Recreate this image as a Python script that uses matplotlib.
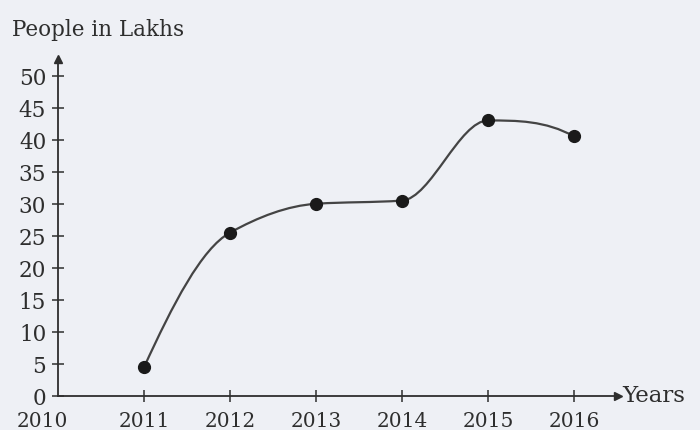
import numpy as np
import matplotlib
matplotlib.use('Agg')
import matplotlib.pyplot as plt
from matplotlib.path import Path
from matplotlib.patches import PathPatch
import matplotlib.transforms as mtransforms

# values
years = [2011, 2012, 2013, 2014, 2015, 2016]
people = [4.5, 25.5, 30.0, 30.5, 43.0, 40.5]
yticks = [0, 5, 10, 15, 20, 25, 30, 35, 40, 45, 50]
xticks = [2010, 2011, 2012, 2013, 2014, 2015, 2016]

plt.rcParams['font.family'] = ['DejaVu Serif']
ink = '#2e2e2e'
bg = '#eef0f5'


def pchip_slopes(x, y):
    # monotone (Fritsch-Carlson) tangents, same rules as scipy's PCHIP
    x = np.asarray(x, float)
    y = np.asarray(y, float)
    h = np.diff(x)
    d = np.diff(y) / h
    m = np.zeros_like(y)
    for k in range(1, len(y) - 1):
        if d[k - 1] * d[k] > 0:
            w1 = 2 * h[k] + h[k - 1]
            w2 = h[k] + 2 * h[k - 1]
            m[k] = (w1 + w2) / (w1 / d[k - 1] + w2 / d[k])

    def end(h0, h1, d0, d1):
        s = ((2 * h0 + h1) * d0 - h0 * d1) / (h0 + h1)
        if np.sign(s) != np.sign(d0):
            s = 0.0
        elif np.sign(d0) != np.sign(d1) and abs(s) > abs(3 * d0):
            s = 3 * d0
        return s

    m[0] = end(h[0], h[1], d[0], d[1])
    m[-1] = end(h[-1], h[-2], d[-1], d[-2])
    return m


fig = plt.figure(figsize=(7, 4.31), dpi=100, facecolor=bg)
ax = fig.add_axes([0.0829, 0.0789, 0.80, 0.782])
ax.set_facecolor(bg)
ax.set_xlim(2010, 2016.51)
ax.set_ylim(0, 52.6)

# smooth monotone curve through the points, as cubic bezier segments
m = pchip_slopes(years, people)
verts = [(years[0], people[0])]
codes = [Path.MOVETO]
for i in range(len(years) - 1):
    h = years[i + 1] - years[i]
    verts += [(years[i] + h / 3, people[i] + m[i] * h / 3),
              (years[i + 1] - h / 3, people[i + 1] - m[i + 1] * h / 3),
              (years[i + 1], people[i + 1])]
    codes += [Path.CURVE4] * 3
ax.add_patch(PathPatch(Path(verts, codes), facecolor='none', edgecolor='#444444', lw=1.6, zorder=2))
ax.plot(years, people, 'o', color='#1a1a1a', ms=8.5, zorder=3)

for s in ['top', 'right']:
    ax.spines[s].set_visible(False)
for s in ['left', 'bottom']:
    ax.spines[s].set_color(ink)
    ax.spines[s].set_linewidth(1.3)

# arrow heads
ax.plot(1, 0, '>', color=ink, ms=6, transform=ax.transAxes, clip_on=False)
ax.plot(0, 1, '^', color=ink, ms=6, transform=ax.transAxes, clip_on=False)

ax.set_yticks(yticks)
ax.set_xticks(xticks)
ax.set_yticklabels([str(v) for v in yticks])
ax.set_xticklabels([str(v) for v in xticks])
ax.tick_params(axis='both', direction='inout', length=9, width=1.1, color=ink,
               labelcolor=ink)
ax.tick_params(axis='y', pad=4, labelsize=15.5)
ax.tick_params(axis='x', pad=6, labelsize=14.5)
ax.xaxis.get_major_ticks()[0].tick1line.set_visible(False)

# shift "2010" label left as in the scan
off = mtransforms.ScaledTranslation(-16 / 100, 0, fig.dpi_scale_trans)
lbl = ax.get_xticklabels()[0]
lbl.set_transform(lbl.get_transform() + off)

fig.text(12 / 700, 1 - 30 / 431, 'People in Lakhs', fontsize=15.5, color=ink,
         ha='left', va='center')
fig.text(622 / 700, 1 - 396 / 431, 'Years', fontsize=16.5, color=ink,
         ha='left', va='center')

fig.savefig('out.png', dpi=100, facecolor=bg)
